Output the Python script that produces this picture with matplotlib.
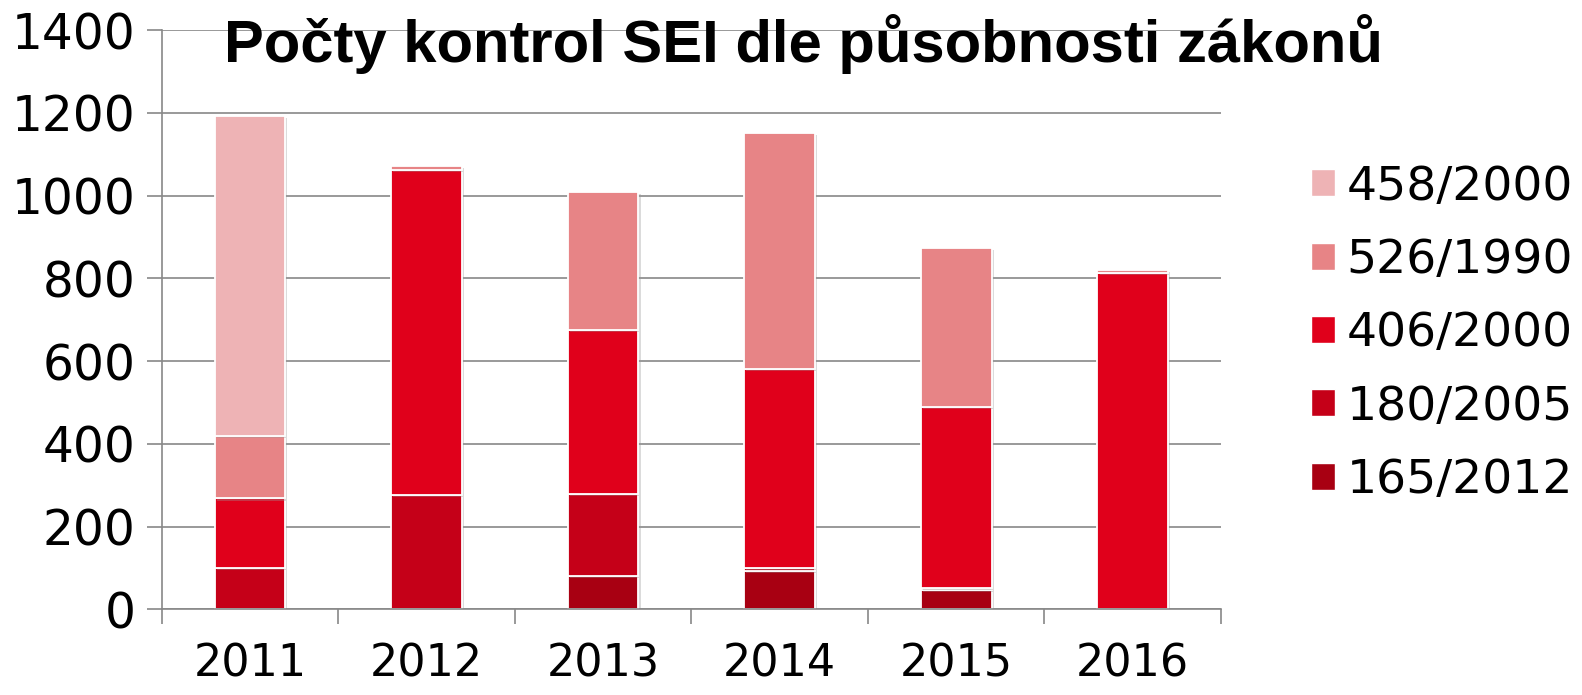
import matplotlib.pyplot as plt
import matplotlib.patheffects as pe
from matplotlib.patches import Patch
import numpy as np

# Roky a počty kontrol podle zákonů
years = ['2011', '2012', '2013', '2014', '2015', '2016']
z165_2012 = np.array([0, 0, 80, 93, 47, 0])
z180_2005 = np.array([99, 276, 198, 6, 4, 0])
z406_2000 = np.array([169, 787, 397, 481, 439, 812])
z526_1990 = np.array([151, 8, 334, 572, 384, 8])
z458_2000 = np.array([774, 0, 0, 0, 0, 0])

series = [
    ('165/2012', z165_2012, '#A80012'),
    ('180/2005', z180_2005, '#C50018'),
    ('406/2000', z406_2000, '#E0001B'),
    ('526/1990', z526_1990, '#E78486'),
    ('458/2000', z458_2000, '#EEB3B5'),
]

fig = plt.figure(figsize=(15.82, 6.95), dpi=100)
ax = fig.add_axes([0.1023, 0.1233, 0.6695, 0.8334])

x = np.arange(len(years))
bottom = np.zeros(len(years))
shadow = [pe.SimplePatchShadow(offset=(1.5, -1.5), shadow_rgbFace='#999999', alpha=0.35), pe.Normal()]
for label, vals, color in series:
    bars = ax.bar(x, vals, 0.4, bottom=bottom, color=color, edgecolor='white',
                  linewidth=1.3, zorder=2)
    for b in bars:
        if b.get_height() > 0:
            b.set_path_effects(shadow)
        else:
            b.set_visible(False)
    bottom = bottom + vals

# osy a mřížka
gray = '#888888'
ax.set_ylim(0, 1400)
ax.set_yticks(np.arange(0, 1401, 200))
ax.set_xlim(-0.5, len(years) - 0.5)
ax.set_xticks(x)
ax.set_xticklabels(years)
ax.set_xticks(np.arange(-0.5, len(years), 1), minor=True)
ax.yaxis.grid(True, color=gray, linewidth=1.2)
ax.set_axisbelow(True)
for s in ['top', 'right']:
    ax.spines[s].set_visible(False)
for s in ['left', 'bottom']:
    ax.spines[s].set_color(gray)
    ax.spines[s].set_linewidth(1.2)
ax.tick_params(axis='y', length=11, width=1.2, color=gray, pad=8, labelsize=35)
ax.tick_params(axis='x', which='major', length=0, pad=24, labelsize=32)
ax.tick_params(axis='x', which='minor', length=11, width=1.2, color=gray)

# titulek
fig.text(0.508, 0.936, 'Počty kontrol SEI dle působnosti zákonů', ha='center', va='center',
         fontsize=43, fontweight='bold', family=['Liberation Sans', 'DejaVu Sans'])

# legenda (pořadí shora dolů)
handles = [Patch(facecolor=c, edgecolor='white') for _, _, c in series][::-1]
ax.legend(handles, [s[0] for s in series][::-1], loc='upper left',
          bbox_to_anchor=(0.8287, 0.763), bbox_transform=fig.transFigure,
          frameon=False, fontsize=34, handlelength=0.5, handleheight=0.5,
          handletextpad=0.25, labelspacing=0.6, borderpad=0, borderaxespad=0)

fig.savefig('out.png', dpi=100)
